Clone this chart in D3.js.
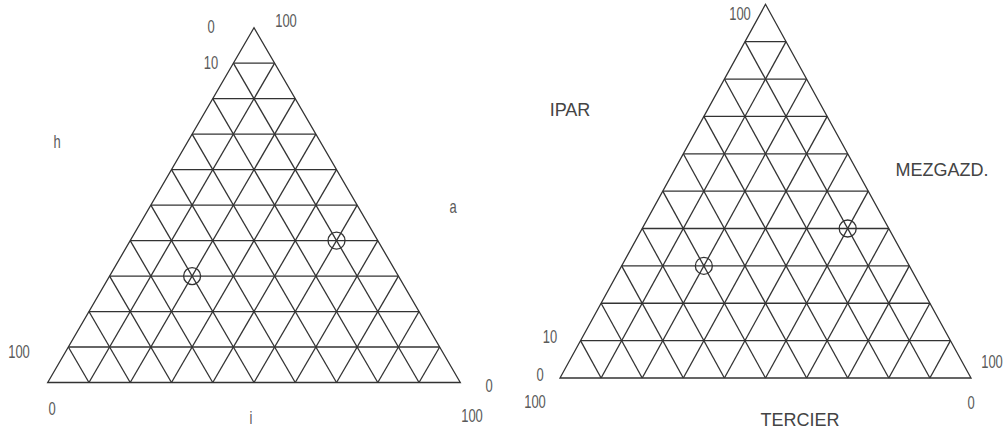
<!DOCTYPE html>
<html>
<head>
<meta charset="utf-8">
<script src="https://cdn.jsdelivr.net/npm/d3@7"></script>
<style>
  body { margin: 0; background: #fff; }
  svg text { fill: #555; }
  .num { font-family: "Liberation Sans", Arial, sans-serif; font-size: 18px; fill: #5a5a5a; }
  .word { font-family: "Liberation Sans", Arial, sans-serif; font-size: 18px; fill: #444; }
</style>
</head>
<body>
<svg id="chart" width="1006" height="430"></svg>
<script>
// grid steps (percent)
var steps = [10, 20, 30, 40, 50, 60, 70, 80, 90];

// marked points: t = top share, r = bottom-right share (left share = rest)
var pointsTop = [30, 40];
var pointsRight = [20, 50];

// label texts
var leftLabels = ["0", "100", "10", "h", "a", "100", "0", "i", "0", "100"];
var rightLabels = ["100", "IPAR", "MEZGAZD.", "10", "0", "100", "100", "0", "TERCIER"];

var svg = d3.select("#chart");

// draws one ternary grid
function ternary(box) {
  var x = d3.scaleLinear().domain([0, 100]).range([box.left, box.right]);
  var y = d3.scaleLinear().domain([0, 100]).range([box.base, box.apex]);
  var proj = function(t, r) { return [x(r + t / 2), y(t)]; };

  var g = svg.append("g");
  var line = d3.line();
  var segs = [];
  steps.forEach(function(k) {
    segs.push([proj(k, 0), proj(k, 100 - k)]);       // constant top
    segs.push([proj(0, k), proj(100 - k, k)]);       // constant right
    segs.push([proj(0, 100 - k), proj(100 - k, 0)]); // constant left
  });
  g.selectAll("path.grid")
    .data(segs)
    .enter().append("path")
      .attr("class", "grid")
      .attr("d", line)
      .style("stroke", "#333")
      .style("stroke-width", 1.3)
      .style("fill", "none");

  g.append("path")
    .attr("d", line([proj(0, 0), proj(0, 100), proj(100, 0)]) + "Z")
    .style("stroke", "#333")
    .style("stroke-width", 1.3)
    .style("fill", "none");

  g.selectAll("circle")
    .data(pointsTop)
    .enter().append("circle")
      .attr("cx", function(d, i) { return proj(d, pointsRight[i])[0]; })
      .attr("cy", function(d, i) { return proj(d, pointsRight[i])[1]; })
      .attr("r", 8.5)
      .style("stroke", "#333")
      .style("stroke-width", 1.3)
      .style("fill", "none");

  return g;
}

function addLabels(g, texts, pos) {
  g.selectAll("text")
    .data(texts)
    .enter().append("text")
      .attr("class", function(d) { return d.length < 4 ? "num" : "word"; })
      .attr("transform", function(d, i) {
        var s = d.length < 4 ? " scale(0.72,1)" : "";
        return "translate(" + pos[i][0] + "," + pos[i][1] + ")" + s;
      })
      .attr("dy", "0.35em")
      .attr("text-anchor", "middle")
      .text(function(d) { return d; });
}

// left diagram
var gl = ternary({left: 47.7, right: 460.3, base: 382.5, apex: 27.7});
addLabels(gl, leftLabels, [
  [211, 27], [286, 21], [211, 63], [57, 142], [453, 207],
  [19, 352], [52, 409], [251, 418], [489, 386], [472, 416]
]);

// right diagram
var gr = ternary({left: 560, right: 971, base: 378, apex: 4.3});
addLabels(gr, rightLabels, [
  [740, 14], [570, 110], [942, 170], [550, 337], [540, 375],
  [535, 402], [992, 362], [971, 403], [800, 420]
]);
</script>
</body>
</html>
